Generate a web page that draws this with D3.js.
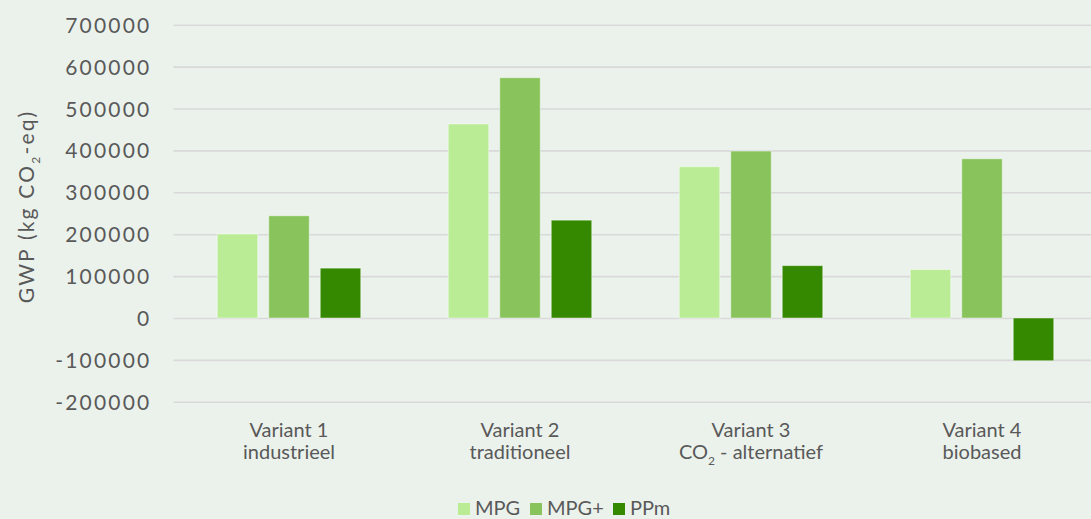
<!DOCTYPE html>
<html>
<head>
<meta charset="utf-8">
<script src="https://cdn.jsdelivr.net/npm/d3@7"></script>
<style>
  html, body { margin: 0; padding: 0; background: #ebf2ec; }
  svg { display: block; }
  text { font-family: Lato, "Open Sans", sans-serif; fill: #595959; }
</style>
</head>
<body>
<svg id="chart" width="1091" height="519"></svg>
<script>
const categories = ["Variant 1", "Variant 2", "Variant 3", "Variant 4"];
const subLabels = ["industrieel", "traditioneel", "CO2 - alternatief", "biobased"];
const seriesNames = ["MPG", "MPG+", "PPm"];
const MPG = [200500, 463000, 361000, 115500];
const MPGplus = [244000, 573500, 398500, 380000];
const PPm = [119000, 233500, 125000, -102000];
const yTicks = [-200000, -100000, 0, 100000, 200000, 300000, 400000, 500000, 600000, 700000];
const colors = ["#b9ec94", "#88c35c", "#358900"];

const seriesValues = [MPG, MPGplus, PPm];

const W = 1091, H = 519;
const plotLeft = 173.5, plotRight = 1097.5, plotTop = 24.7, plotBottom = 401.8;

const svg = d3.select("#chart");
svg.append("rect").attr("width", W).attr("height", H).attr("fill", "#ebf2ec");

const x = d3.scaleBand().domain(categories).range([plotLeft, plotRight]).paddingInner(0).paddingOuter(0);
const xs = d3.scaleBand().domain(seriesNames)
  .range([43.75, 187.25]).paddingInner(11 / 51.5).paddingOuter(0);
const y = d3.scaleLinear().domain([-200000, 700000]).range([plotBottom, plotTop]);

// gridlines + tick labels
const yAxis = d3.axisLeft(y).tickValues(yTicks).tickFormat(d => String(d))
  .tickSize(-(W - plotLeft)).tickPadding(22);
const gy = svg.append("g").attr("transform", `translate(${plotLeft},0)`).call(yAxis);
gy.select(".domain").remove();
gy.selectAll(".tick line").attr("stroke", "#d9d9d9").attr("stroke-width", 1.6);
gy.selectAll(".tick text")
  .style("font-size", "21px").style("letter-spacing", "2.2px")
  .attr("fill", "#595959").attr("dy", "0.36em");

// bars
const rows = [];
categories.forEach((c, i) => {
  seriesNames.forEach((s, j) => rows.push({ cat: c, series: s, value: seriesValues[j][i], color: colors[j] }));
});
svg.append("g").selectAll("rect").data(rows).join("rect")
  .attr("x", d => x(d.cat) + xs(d.series))
  .attr("width", xs.bandwidth())
  .attr("y", d => y(Math.max(0, d.value)))
  .attr("height", d => Math.abs(y(d.value) - y(0)))
  .attr("fill", d => d.color)
  .attr("stroke", "#ffffff").attr("stroke-opacity", 0.45).attr("stroke-width", 1);

// category labels
const gx = svg.append("g");
categories.forEach((c, i) => {
  const cx = x(c) + x.bandwidth() / 2;
  gx.append("text").attr("x", cx).attr("y", 436.7).attr("text-anchor", "middle")
    .style("font-size", "20px").text(c);
  const t = gx.append("text").attr("x", cx).attr("y", 459).attr("text-anchor", "middle")
    .style("font-size", "20px");
  const lab = subLabels[i];
  if (lab.startsWith("CO2")) {
    t.append("tspan").text("CO");
    t.append("tspan").text("2").style("font-size", "12px").attr("dy", 6);
    t.append("tspan").text(lab.slice(3)).attr("dy", -6);
  } else {
    t.text(lab);
  }
});

// y-axis title
const yt = svg.append("text")
  .attr("transform", `translate(33.5,${(100 + 313) / 2}) rotate(-90)`)
  .attr("text-anchor", "middle")
  .style("font-size", "21px").style("letter-spacing", "2.2px");
yt.append("tspan").text("GWP (kg CO");
yt.append("tspan").text("2").style("font-size", "12px").attr("dy", 6);
yt.append("tspan").text("-eq)").attr("dy", -6);

// legend
const legendX = [458, 530, 613];
const lg = svg.append("g");
seriesNames.forEach((s, j) => {
  lg.append("rect").attr("x", legendX[j]).attr("y", 503).attr("width", 12).attr("height", 12).attr("fill", colors[j]);
  lg.append("text").attr("x", legendX[j] + 17).attr("y", 514.5).style("font-size", "20px").text(s);
});
</script>
</body>
</html>
